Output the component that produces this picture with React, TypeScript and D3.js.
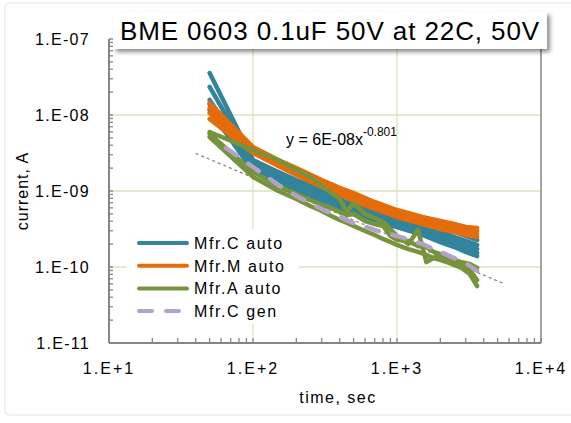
import React from 'react';
import * as d3 from 'd3';

const W = 571;
const H = 423;
const FONT = "'Liberation Sans', Arial, sans-serif";

// time axis (s)
const X_TICKS = [10, 100, 1000, 10000];
const X_LABELS = ['1.E+1', '1.E+2', '1.E+3', '1.E+4'];
const Y_TICKS = [1e-11, 1e-10, 1e-9, 1e-8, 1e-7];
const Y_LABELS = ['1.E-11', '1.E-10', '1.E-09', '1.E-08', '1.E-07'];

const TIMES = [50, 100, 150, 200, 300, 400, 500, 700, 1000, 1500, 2000, 2500, 3000, 3600];
const TIMES_A = [50, 100, 150, 200, 250, 300, 350, 400, 450, 500, 600, 700, 800, 900, 1000, 1200, 1400, 1600, 1800, 2000, 2400, 2800, 3200, 3600];
const TIMES_GEN = [65, 100, 150, 200, 300, 400, 500, 700, 1000, 1500, 2000, 2500, 3000, 3600];

// Mfr.M auto (orange)
const MFR_M_1 = [1.44e-8, 3.79e-9, 2.56e-9, 2.01e-9, 1.39e-9, 1.10e-9, 9.41e-10, 7.17e-10, 5.62e-10, 4.55e-10, 4.03e-10, 3.68e-10, 3.36e-10, 3.26e-10];
const MFR_M_2 = [1.24e-8, 3.57e-9, 2.41e-9, 1.89e-9, 1.31e-9, 1.03e-9, 8.6e-10, 6.75e-10, 5.29e-10, 4.28e-10, 3.79e-10, 3.36e-10, 3.16e-10, 2.98e-10];
const MFR_M_3 = [1.06e-8, 3.36e-9, 2.27e-9, 1.78e-9, 1.24e-9, 9.7e-10, 8.09e-10, 6.35e-10, 4.98e-10, 4.03e-10, 3.46e-10, 3.16e-10, 2.89e-10, 2.72e-10];
const MFR_M_4 = [8.86e-9, 3.16e-9, 2.13e-9, 1.62e-9, 1.13e-9, 8.86e-10, 7.39e-10, 5.8e-10, 4.55e-10, 3.68e-10, 3.16e-10, 2.89e-10, 2.64e-10, 2.48e-10];

// Mfr.C auto (teal)
const MFR_C_1 = [3.57e-8, 2.56e-9, 1.78e-9, 1.39e-9, 1.03e-9, 8.34e-10, 7.17e-10, 5.8e-10, 4.83e-10, 3.91e-10, 3.36e-10, 2.89e-10, 2.56e-10, 2.27e-10];
const MFR_C_2 = [2.34e-8, 2.41e-9, 1.62e-9, 1.27e-9, 9.41e-10, 7.61e-10, 6.54e-10, 5.29e-10, 4.41e-10, 3.46e-10, 2.89e-10, 2.48e-10, 2.2e-10, 1.95e-10];
const MFR_C_3 = [1.58e-8, 2.2e-9, 1.48e-9, 1.16e-9, 8.6e-10, 6.95e-10, 5.98e-10, 4.83e-10, 4.03e-10, 3.16e-10, 2.64e-10, 2.27e-10, 1.95e-10, 1.72e-10];
const MFR_C_4 = [1.39e-8, 2.01e-9, 1.35e-9, 1.06e-9, 7.85e-10, 6.35e-10, 5.45e-10, 4.41e-10, 3.68e-10, 2.89e-10, 2.34e-10, 2.01e-10, 1.72e-10, 1.53e-10];
const MFR_C_5 = [1.16e-8, 1.83e-9, 1.24e-9, 9.7e-10, 7.17e-10, 5.8e-10, 4.98e-10, 4.03e-10, 3.36e-10, 2.64e-10, 2.13e-10, 1.83e-10, 1.58e-10, 1.39e-10];

// Mfr.A auto (green)
const MFR_A_1 = [5.98e-9, 3.46e-9, 2.56e-9, 1.89e-9, 1.53e-9, 1.16e-9, 9.41e-10, 7.85e-10, 5.29e-10, 6.95e-10, 4.98e-10, 4.41e-10, 3.91e-10, 3.16e-10, 2.56e-10, 2.01e-10, 3.07e-10, 1.16e-10, 1.31e-10, 1.44e-10, 1.16e-10, 1.06e-10, 9.13e-11, 6.75e-11];
const MFR_A_2 = [5.13e-9, 1.53e-9, 1.0e-9, 7.85e-10, 6.35e-10, 5.45e-10, 4.69e-10, 4.15e-10, 3.79e-10, 3.46e-10, 2.98e-10, 2.64e-10, 2.34e-10, 2.13e-10, 1.95e-10, 1.72e-10, 1.58e-10, 1.44e-10, 1.31e-10, 1.24e-10, 1.1e-10, 9.7e-11, 8.09e-11, 5.62e-11];
const MFR_A_3 = [5.62e-9, 1.78e-9, 1.16e-9, 9.13e-10, 7.61e-10, 6.54e-10, 5.98e-10, 5.29e-10, 4.83e-10, 4.98e-10, 4.03e-10, 3.68e-10, 3.46e-10, 2.56e-10, 2.27e-10, 2.2e-10, 1.89e-10, 1.83e-10, 1.58e-10, 1.48e-10, 1.27e-10, 1.16e-10, 1.1e-10, 9.7e-11];

// Mfr.C gen (lavender dashed)
const MFR_C_GEN = [3.68e-9, 2.07e-9, 1.2e-9, 8.6e-10, 5.8e-10, 4.55e-10, 3.79e-10, 3.07e-10, 2.56e-10, 2.01e-10, 1.58e-10, 1.31e-10, 1.13e-10, 8.86e-11];

// power trendline y = a x^b
const TREND_A = 6e-8;
const TREND_B = -0.801;
const TREND_RANGE = [40, 5400];

const TEAL = '#31849b';
const ORANGE = '#e46c0a';
const GREEN = '#77933c';
const LAVENDER = '#b3a2c7';
const GRID = '#d7e4bd';
const AXIS = '#868686';

const LEGEND = [
  { label: 'Mfr.C auto', color: TEAL, dash: '' },
  { label: 'Mfr.M auto', color: ORANGE, dash: '' },
  { label: 'Mfr.A auto', color: GREEN, dash: '' },
  { label: 'Mfr.C gen', color: LAVENDER, dash: '13,14' },
];

export default function App() {
  const x = d3.scaleLog().domain([10, 10000]).range([109, 541]);
  const y = d3.scaleLog().domain([1e-11, 1e-7]).range([343, 39]);
  const mk = (ts: number[]) => d3.line<number>().x((_, i) => x(ts[i])).y((v) => y(v));
  const lineT = mk(TIMES);
  const lineA = mk(TIMES_A);
  const lineG = mk(TIMES_GEN);

  const trendTimes = d3.range(0, 41).map((i) => TREND_RANGE[0] * Math.pow(TREND_RANGE[1] / TREND_RANGE[0], i / 40));
  const trendPath = d3.line<number>().x((t) => x(t)).y((t) => y(TREND_A * Math.pow(t, TREND_B)))(trendTimes);

  const xMinor = x.ticks();
  const yMinor = y.ticks();

  const [x0, x1] = x.range();
  const [y0, y1] = y.range();

  const dataStyle = { fill: 'none', strokeWidth: 4.5, strokeLinejoin: 'round' as const, strokeLinecap: 'round' as const };

  return (
    <svg width={W} height={H} style={{ position: 'absolute', left: 0, top: 0, fontFamily: FONT }}>
      <defs>
        <filter id="shadow" x="-5%" y="-20%" width="115%" height="160%">
          <feDropShadow dx="3" dy="3" stdDeviation="2" floodColor="#000" floodOpacity="0.45" />
        </filter>
      </defs>
      <rect x={0} y={0} width={W} height={H} fill="#fff" />
      <rect x={5} y={3} width={580} height={412} rx={4} fill="none" stroke="#e3e3e3" />

      {/* grid */}
      {X_TICKS.slice(1, -1).map((t) => (
        <line key={'gx' + t} x1={x(t)} x2={x(t)} y1={y1} y2={y0} stroke={GRID} strokeWidth={1.3} />
      ))}
      {Y_TICKS.slice(1).map((v) => (
        <line key={'gy' + v} x1={x0} x2={x1} y1={y(v)} y2={y(v)} stroke={GRID} strokeWidth={1.3} />
      ))}

      {/* axes */}
      <line x1={x0} x2={x0} y1={y1} y2={y0} stroke={AXIS} strokeWidth={2} />
      <line x1={x0} x2={x1} y1={y0} y2={y0} stroke={AXIS} strokeWidth={2} />
      <line x1={x1} x2={x1} y1={y1} y2={y0} stroke={AXIS} strokeWidth={1.5} />
      {xMinor.map((t) => (
        <line key={'tx' + t} x1={x(t)} x2={x(t)} y1={y0} y2={y0 - 5} stroke={AXIS} strokeWidth={1.3} />
      ))}
      {yMinor.map((v) => (
        <line key={'ty' + v} x1={x0} x2={x0 + 4} y1={y(v)} y2={y(v)} stroke={AXIS} strokeWidth={1.3} />
      ))}

      {/* tick labels */}
      {X_TICKS.map((t, i) => (
        <text key={'lx' + t} x={x(t)} y={374} textAnchor="middle" fontSize={16} letterSpacing={2} fill="#000">
          {X_LABELS[i]}
        </text>
      ))}
      {Y_TICKS.map((v, i) => (
        <text key={'ly' + v} x={90} y={y(v) + 6} textAnchor="end" fontSize={16} letterSpacing={1.3} fill="#000">
          {Y_LABELS[i]}
        </text>
      ))}
      <text x={338} y={403} textAnchor="middle" fontSize={16} letterSpacing={1.5} fill="#000">time, sec</text>
      <text transform="translate(28,191) rotate(-90)" textAnchor="middle" fontSize={16} letterSpacing={1} fill="#000">current, A</text>

      {/* trendline */}
      <path d={trendPath || ''} fill="none" stroke="#7f7f7f" strokeWidth={1.2} strokeDasharray="3,3" />

      {/* data */}
      {[MFR_C_1, MFR_C_2, MFR_C_3, MFR_C_4, MFR_C_5].map((s, i) => (
        <path key={'c' + i} d={lineT(s) || ''} stroke={TEAL} {...dataStyle} />
      ))}
      {[MFR_M_1, MFR_M_2, MFR_M_3, MFR_M_4].map((s, i) => (
        <path key={'m' + i} d={lineT(s) || ''} stroke={ORANGE} {...dataStyle} />
      ))}
      {[MFR_A_1, MFR_A_2, MFR_A_3].map((s, i) => (
        <path key={'a' + i} d={lineA(s) || ''} stroke={GREEN} {...dataStyle} />
      ))}
      <path d={lineG(MFR_C_GEN) || ''} stroke={LAVENDER} strokeDasharray="13,14" {...dataStyle} />

      {/* equation */}
      <text x={286} y={145} fontSize={16} fill="#000">
        y = 6E-08x<tspan dy={-9} fontSize={12}>-0.801</tspan>
      </text>

      {/* legend */}
      <rect x={127} y={229} width={172} height={95} fill="#fff" />
      {LEGEND.map((d, i) => {
        const ly = 243 + i * 22.7;
        return (
          <g key={d.label}>
            <line x1={139} x2={187} y1={ly} y2={ly} stroke={d.color} strokeWidth={4} strokeLinecap="round" strokeDasharray={d.dash || undefined} />
            <text x={194} y={ly + 6} fontSize={16} letterSpacing={1.6} fill="#000">{d.label}</text>
          </g>
        );
      })}

      {/* title */}
      <rect x={113} y={12} width={434} height={37} fill="#fff" filter="url(#shadow)" />
      <text x={330} y={40} textAnchor="middle" fontSize={26} letterSpacing={0.9} fill="#000">
        BME 0603 0.1uF 50V at 22C, 50V
      </text>
    </svg>
  );
}
